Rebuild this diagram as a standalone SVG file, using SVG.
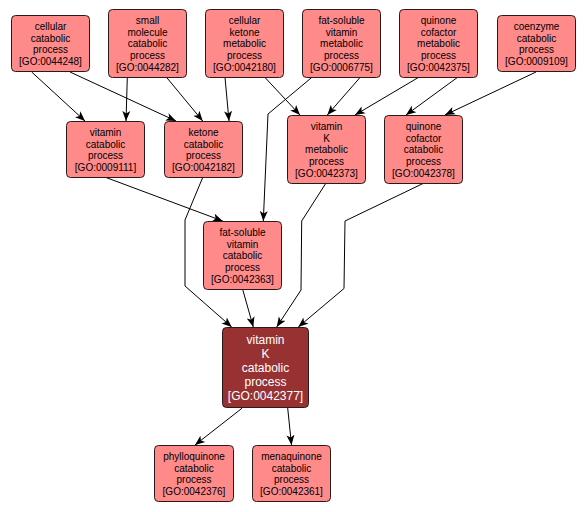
<svg xmlns="http://www.w3.org/2000/svg" width="587" height="512" viewBox="0 0 587 512">
<defs>
<style>
.n rect{fill:#ff8a8a;stroke:#2a1a1a;stroke-width:1}
.n text{font-family:"Liberation Sans",Arial,sans-serif;font-size:10px;fill:#000;text-anchor:middle}
.d rect{fill:#983232;stroke:#2a1a1a;stroke-width:1}
.d text{font-family:"Liberation Sans",Arial,sans-serif;font-size:12px;fill:#fff;text-anchor:middle}
.e path{fill:none;stroke:#000;stroke-width:1;marker-end:url(#a)}
</style>
<marker id="a" markerUnits="userSpaceOnUse" markerWidth="11" markerHeight="10" refX="10" refY="5" orient="auto">
<path d="M0,1 L10,5 L0,9 L2.5,5 z" fill="#000"/>
</marker>
</defs>
<rect width="587" height="512" fill="#fff"/>
<g id="edges" class="e">
<path d="M31.7,72 L85,121"/>
<path d="M70,72 L176,121"/>
<path d="M127.3,77.5 L126,121"/>
<path d="M166.7,77.5 L202.7,121"/>
<path d="M225,77.5 L229,121"/>
<path d="M265,77.5 L300,115"/>
<path d="M311.7,77.5 L268,114 L263.3,221"/>
<path d="M360,77.5 L327.3,115"/>
<path d="M418.3,77.5 L355,115"/>
<path d="M457.3,77.5 L406,115"/>
<path d="M536,72 L445,115"/>
<path d="M106,177.5 L222.7,221"/>
<path d="M202.7,177.5 L185,220 L185,286 L231.7,327"/>
<path d="M325.7,183.5 L301.7,221 L301,290 L276.7,327"/>
<path d="M423,183.5 L345,221 L344,288.5 L298.3,327"/>
<path d="M242.7,289.5 L253.3,327"/>
<path d="M242.3,408 L195,445"/>
<path d="M287.7,408 L291.5,445"/>
</g>
<g id="GO0044248" class="n"><rect x="11.5" y="15.5" width="78" height="56" rx="4"/>
<text x="50.5" y="30">cellular</text><text x="50.5" y="41.5">catabolic</text><text x="50.5" y="53.2">process</text><text x="50.5" y="65">[GO:0044248]</text></g>
<g id="GO0044282" class="n"><rect x="108.5" y="9.5" width="78" height="68" rx="4"/>
<text x="147.5" y="24">small</text><text x="147.5" y="35.7">molecule</text><text x="147.5" y="47.4">catabolic</text><text x="147.5" y="59.1">process</text><text x="147.5" y="70.8">[GO:0044282]</text></g>
<g id="GO0042180" class="n"><rect x="205.5" y="9.5" width="78" height="68" rx="4"/>
<text x="244.5" y="24">cellular</text><text x="244.5" y="35.7">ketone</text><text x="244.5" y="47.4">metabolic</text><text x="244.5" y="59.1">process</text><text x="244.5" y="70.8">[GO:0042180]</text></g>
<g id="GO0006775" class="n"><rect x="302.5" y="9.5" width="78" height="68" rx="4"/>
<text x="341.5" y="24">fat-soluble</text><text x="341.5" y="35.7">vitamin</text><text x="341.5" y="47.4">metabolic</text><text x="341.5" y="59.1">process</text><text x="341.5" y="70.8">[GO:0006775]</text></g>
<g id="GO0042375" class="n"><rect x="399.5" y="9.5" width="78" height="68" rx="4"/>
<text x="438.5" y="24">quinone</text><text x="438.5" y="35.7">cofactor</text><text x="438.5" y="47.4">metabolic</text><text x="438.5" y="59.1">process</text><text x="438.5" y="70.8">[GO:0042375]</text></g>
<g id="GO0009109" class="n"><rect x="497.5" y="15.5" width="78" height="56" rx="4"/>
<text x="536.5" y="30">coenzyme</text><text x="536.5" y="41.5">catabolic</text><text x="536.5" y="53.2">process</text><text x="536.5" y="65">[GO:0009109]</text></g>
<g id="GO0009111" class="n"><rect x="66.5" y="121.5" width="78" height="56" rx="4"/>
<text x="105.5" y="136">vitamin</text><text x="105.5" y="147.5">catabolic</text><text x="105.5" y="159.2">process</text><text x="105.5" y="171">[GO:0009111]</text></g>
<g id="GO0042182" class="n"><rect x="164.5" y="121.5" width="78" height="56" rx="4"/>
<text x="203.5" y="136">ketone</text><text x="203.5" y="147.5">catabolic</text><text x="203.5" y="159.2">process</text><text x="203.5" y="171">[GO:0042182]</text></g>
<g id="GO0042373" class="n"><rect x="287.5" y="115.5" width="78" height="68" rx="4"/>
<text x="326.5" y="130">vitamin</text><text x="326.5" y="141.7">K</text><text x="326.5" y="153.4">metabolic</text><text x="326.5" y="165.1">process</text><text x="326.5" y="176.8">[GO:0042373]</text></g>
<g id="GO0042378" class="n"><rect x="384.5" y="115.5" width="78" height="68" rx="4"/>
<text x="423.5" y="130">quinone</text><text x="423.5" y="141.7">cofactor</text><text x="423.5" y="153.4">catabolic</text><text x="423.5" y="165.1">process</text><text x="423.5" y="176.8">[GO:0042378]</text></g>
<g id="GO0042363" class="n"><rect x="203.5" y="221.5" width="78" height="68" rx="4"/>
<text x="242.5" y="236">fat-soluble</text><text x="242.5" y="247.7">vitamin</text><text x="242.5" y="259.4">catabolic</text><text x="242.5" y="271.1">process</text><text x="242.5" y="282.8">[GO:0042363]</text></g>
<g id="GO0042377" class="d"><rect x="222.5" y="327.5" width="86" height="80" rx="4"/>
<text x="265.5" y="343.5">vitamin</text><text x="265.5" y="357.5">K</text><text x="265.5" y="371.5">catabolic</text><text x="265.5" y="385.5">process</text><text x="265.5" y="399.5">[GO:0042377]</text></g>
<g id="GO0042376" class="n"><rect x="154.5" y="445.5" width="79" height="56" rx="4"/>
<text x="194" y="460">phylloquinone</text><text x="194" y="471.5">catabolic</text><text x="194" y="483.2">process</text><text x="194" y="495">[GO:0042376]</text></g>
<g id="GO0042361" class="n"><rect x="252.5" y="445.5" width="78" height="56" rx="4"/>
<text x="291.5" y="460">menaquinone</text><text x="291.5" y="471.5">catabolic</text><text x="291.5" y="483.2">process</text><text x="291.5" y="495">[GO:0042361]</text></g>
</svg>
